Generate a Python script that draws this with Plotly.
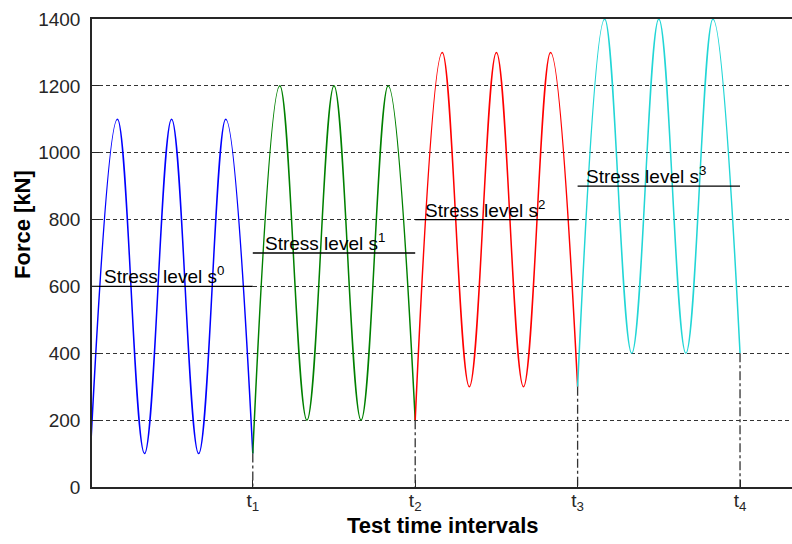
import plotly.graph_objects as go

# ---- data ----
seg_start = [0, 1, 2, 3]          # t0..t3
seg_end = [1, 2, 3, 4]            # t1..t4
troughs = [100, 200, 300, 400]    # kN
peaks = [1100, 1200, 1300, 1400]  # kN
levels = [600, 700, 800, 900]     # stress level (mean) kN
cycles = 3
colors = ["#0000ff", "#008000", "#ff0000", "#22d6d6"]
level_labels = ["Stress level s<sup>0</sup>", "Stress level s<sup>1</sup>",
                "Stress level s<sup>2</sup>", "Stress level s<sup>3</sup>"]
label_x = [0.07, 1.065, 2.045, 3.04]
t_ticks = [1, 2, 3, 4]
t_text = ["t<sub>1</sub>", "t<sub>2</sub>", "t<sub>3</sub>", "t<sub>4</sub>"]
y_ticks = [0, 200, 400, 600, 800, 1000, 1200, 1400]

fig = go.Figure()

# load waveforms: extremes joined with a smooth spline
for i in range(4):
    start_val = troughs[i - 1] if i > 0 else troughs[0]
    xs = [seg_start[i]]
    ys = [start_val]
    n = 2 * cycles
    for k in range(1, n + 1):
        xs.append(seg_start[i] + (seg_end[i] - seg_start[i]) * k / n)
        ys.append(peaks[i] if k % 2 == 1 else troughs[i])
    fig.add_trace(go.Scatter(x=xs, y=ys, mode="lines",
                             line=dict(color=colors[i], width=1.5, shape="spline", smoothing=1.1),
                             hoverinfo="skip", showlegend=False))

# stress level lines
for i in range(4):
    fig.add_trace(go.Scatter(x=[seg_start[i], seg_end[i]], y=[levels[i], levels[i]],
                             mode="lines", line=dict(color="black", width=1.3),
                             hoverinfo="skip", showlegend=False))
    fig.add_annotation(x=label_x[i], y=levels[i], text=level_labels[i], showarrow=False,
                       xanchor="left", yanchor="bottom", yshift=-3,
                       font=dict(family="Liberation Sans, Arial", size=19, color="black"))

# vertical dash-dot markers at t1..t4
for i in range(4):
    fig.add_trace(go.Scatter(x=[seg_end[i], seg_end[i]], y=[troughs[i], 0], mode="lines",
                             line=dict(color="#333333", width=1.3, dash="dashdot"),
                             hoverinfo="skip", showlegend=False))

fig.update_layout(
    width=792, height=544,
    margin=dict(l=92, r=0, t=19, b=57),
    paper_bgcolor="white", plot_bgcolor="white",
    font=dict(family="Liberation Sans, Arial", size=19, color="#262626"),
    xaxis=dict(range=[0.01, 4.32], tickvals=t_ticks, ticktext=t_text,
               showgrid=False, zeroline=False, showline=True, linecolor="#262626",
               linewidth=1.5, mirror=True, ticks="inside", ticklen=7, tickcolor="#262626",
               ticklabelstandoff=-5, automargin=False,
               tickfont=dict(size=19, color="#262626")),
    yaxis=dict(range=[0, 1400], tickvals=y_ticks, showgrid=True, gridcolor="#333333",
               gridwidth=1, griddash="4px,3px", zeroline=False, showline=True,
               linecolor="#262626", linewidth=1.5, ticks="inside", ticklen=7,
               ticklabelstandoff=6, automargin=False,
               tickcolor="#262626", tickfont=dict(size=19, color="#262626")),
)

fig.add_annotation(xref="paper", yref="paper", x=-0.0986, y=0.562, text="<b>Force [kN]</b>",
                   showarrow=False, textangle=-90, xanchor="center", yanchor="middle",
                   font=dict(family="Liberation Sans, Arial", size=22, color="black"))
fig.add_annotation(xref="paper", yref="paper", x=0.502, y=-0.083, text="<b>Test time intervals</b>",
                   showarrow=False, xanchor="center", yanchor="middle",
                   font=dict(family="Liberation Sans, Arial", size=22, color="black"))

fig.write_html("out.html", config={"displayModeBar": False},
               post_script="document.body.style.margin='0';")
